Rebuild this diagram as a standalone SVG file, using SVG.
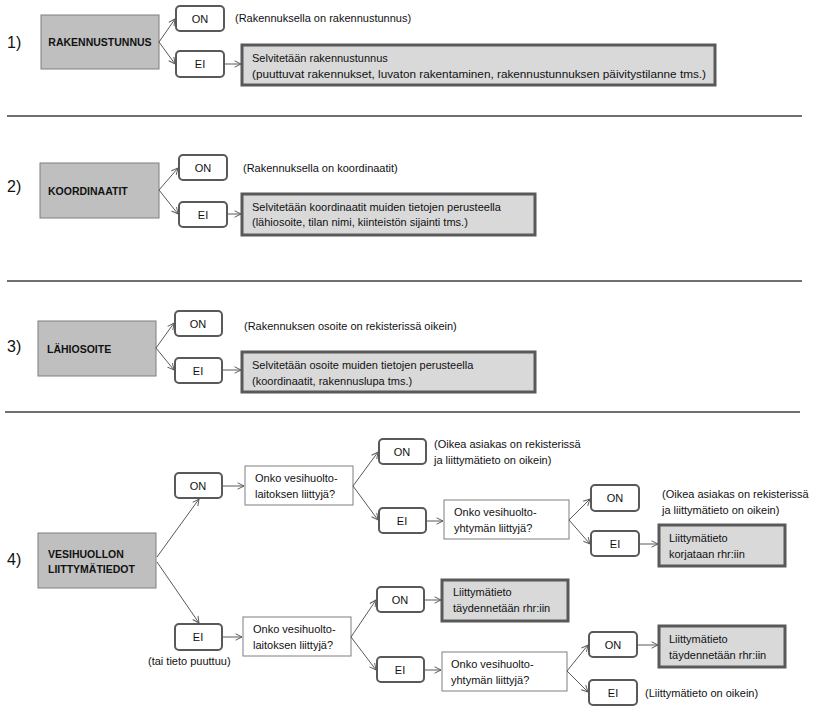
<svg xmlns="http://www.w3.org/2000/svg" width="828" height="709" viewBox="0 0 828 709">
<defs>
<marker id="arr" viewBox="0 0 10 10" refX="9" refY="5" markerWidth="8" markerHeight="8" markerUnits="userSpaceOnUse" orient="auto">
<path d="M1,1 L9,5 L1,9" fill="none" stroke="#595959" stroke-width="1.2"/>
</marker>
</defs>
<style>
text{font-family:"Liberation Sans",Arial,sans-serif;font-size:11px;fill:#111}
.num{font-size:16px}
.b{font-weight:bold;font-size:10.5px}
.main{fill:#bfbfbf;stroke:#7f7f7f;stroke-width:1}
.yn{fill:#fff;stroke:#595959;stroke-width:2}
.res{fill:#d9d9d9;stroke:#595959;stroke-width:3}
.q{fill:#fff;stroke:#7f7f7f;stroke-width:1}
.sep{stroke:#707070;stroke-width:2}
.c{stroke:#595959;stroke-width:1;fill:none;marker-end:url(#arr)}
.m{text-anchor:middle}
</style>
<rect width="828" height="709" fill="#fff"/>

<!-- separators -->
<line class="sep" x1="7" y1="116" x2="802" y2="116"/>
<line class="sep" x1="7" y1="281" x2="802" y2="281"/>
<line class="sep" x1="5" y1="412" x2="800" y2="412"/>

<!-- Section 1 -->
<text class="num" x="7" y="48">1)</text>
<g id="s1-main"><rect class="main" x="41" y="15" width="118" height="54"/><text class="b m" x="100" y="46">RAKENNUSTUNNUS</text></g>
<g id="s1-on"><rect class="yn" x="176" y="6" width="48" height="25" rx="4"/><text class="m" x="200" y="23">ON</text></g>
<g id="s1-ei"><rect class="yn" x="176" y="51" width="48" height="26" rx="4"/><text class="m" x="200" y="68">EI</text></g>
<g id="s1-note"><text x="235" y="22">(Rakennuksella on rakennustunnus)</text></g>
<g id="s1-res"><rect class="res" x="242" y="45" width="473" height="40"/><text x="252" y="62">Selvitetään rakennustunnus</text><text x="252" y="78" textLength="454" lengthAdjust="spacingAndGlyphs">(puuttuvat rakennukset, luvaton rakentaminen, rakennustunnuksen päivitystilanne tms.)</text></g>

<!-- Section 2 -->
<text class="num" x="7" y="192">2)</text>
<g id="s2-main"><rect class="main" x="40" y="163" width="119" height="55"/><text class="b" x="48" y="195">KOORDINAATIT</text></g>
<g id="s2-on"><rect class="yn" x="179" y="155" width="48" height="25" rx="4"/><text class="m" x="203" y="172">ON</text></g>
<g id="s2-ei"><rect class="yn" x="179" y="202" width="48" height="25" rx="4"/><text class="m" x="203" y="219">EI</text></g>
<g id="s2-note"><text x="243" y="172">(Rakennuksella on koordinaatit)</text></g>
<g id="s2-res"><rect class="res" x="242" y="194" width="293" height="41"/><text x="252" y="211">Selvitetään koordinaatit muiden tietojen perusteella</text><text x="252" y="226">(lähiosoite, tilan nimi, kiinteistön sijainti tms.)</text></g>

<!-- Section 3 -->
<text class="num" x="7" y="352">3)</text>
<g id="s3-main"><rect class="main" x="38" y="321" width="118" height="55"/><text class="b" x="47" y="353">LÄHIOSOITE</text></g>
<g id="s3-on"><rect class="yn" x="175" y="311" width="47" height="25" rx="4"/><text class="m" x="198" y="328">ON</text></g>
<g id="s3-ei"><rect class="yn" x="175" y="358" width="47" height="25" rx="4"/><text class="m" x="198" y="375">EI</text></g>
<g id="s3-note"><text x="244" y="330">(Rakennuksen osoite on rekisterissä oikein)</text></g>
<g id="s3-res"><rect class="res" x="242" y="352" width="293" height="40"/><text x="252" y="369">Selvitetään osoite muiden tietojen perusteella</text><text x="252" y="385">(koordinaatit, rakennuslupa tms.)</text></g>

<!-- Section 4 -->
<text class="num" x="7" y="565">4)</text>
<g id="s4-main"><rect class="main" x="38" y="533" width="118" height="55"/><text class="b" x="48" y="558">VESIHUOLLON</text><text class="b" x="48" y="573">LIITTYMÄTIEDOT</text></g>
<g id="s4-on"><rect class="yn" x="175" y="473" width="47" height="25" rx="4"/><text class="m" x="198" y="490">ON</text></g>
<g id="s4-ei"><rect class="yn" x="175" y="624" width="47" height="26" rx="4"/><text class="m" x="198" y="641">EI</text></g>
<g id="s4-ei-note"><text x="148" y="665">(tai tieto puuttuu)</text></g>

<g id="q1"><rect class="q" x="245" y="466" width="108" height="39"/><text x="255" y="482">Onko vesihuolto-</text><text x="255" y="498">laitoksen liittyjä?</text></g>
<g id="q1-on"><rect class="yn" x="379" y="439" width="47" height="25" rx="4"/><text class="m" x="402" y="456">ON</text></g>
<g id="q1-ei"><rect class="yn" x="379" y="508" width="47" height="25" rx="4"/><text class="m" x="402" y="525">EI</text></g>
<g id="q1-on-note"><text x="434" y="448">(Oikea asiakas on rekisterissä</text><text x="434" y="464">ja liittymätieto on oikein)</text></g>

<g id="q2"><rect class="q" x="444" y="500" width="125" height="39"/><text x="454" y="516">Onko vesihuolto-</text><text x="454" y="532">yhtymän liittyjä?</text></g>
<g id="q2-on"><rect class="yn" x="591" y="485" width="48" height="26" rx="4"/><text class="m" x="615" y="502">ON</text></g>
<g id="q2-ei"><rect class="yn" x="591" y="531" width="48" height="25" rx="4"/><text class="m" x="615" y="548">EI</text></g>
<g id="q2-on-note"><text x="662" y="498">(Oikea asiakas on rekisterissä</text><text x="662" y="514">ja liittymätieto on oikein)</text></g>
<g id="r1"><rect class="res" x="659" y="525" width="126" height="41"/><text x="669" y="542">Liittymätieto</text><text x="669" y="558">korjataan rhr:iin</text></g>

<g id="q3"><rect class="q" x="243" y="617" width="108" height="39"/><text x="253" y="633">Onko vesihuolto-</text><text x="253" y="649">laitoksen liittyjä?</text></g>
<g id="q3-on"><rect class="yn" x="377" y="587" width="47" height="25" rx="4"/><text class="m" x="400" y="604">ON</text></g>
<g id="q3-ei"><rect class="yn" x="377" y="657" width="47" height="25" rx="4"/><text class="m" x="400" y="674">EI</text></g>
<g id="r2"><rect class="res" x="442" y="580" width="126" height="41"/><text x="453" y="596">Liittymätieto</text><text x="453" y="612">täydennetään rhr:iin</text></g>

<g id="q4"><rect class="q" x="442" y="652" width="125" height="39"/><text x="451" y="668">Onko vesihuolto-</text><text x="451" y="684">yhtymän liittyjä?</text></g>
<g id="q4-on"><rect class="yn" x="589" y="632" width="48" height="25" rx="4"/><text class="m" x="613" y="649">ON</text></g>
<g id="q4-ei"><rect class="yn" x="589" y="680" width="48" height="25" rx="4"/><text class="m" x="613" y="697">EI</text></g>
<g id="q4-ei-note"><text x="645" y="697">(Liittymätieto on oikein)</text></g>
<g id="r3"><rect class="res" x="659" y="626" width="126" height="41"/><text x="669" y="643">Liittymätieto</text><text x="669" y="659">täydennetään rhr:iin</text></g>

<g id="connectors">
<line class="c" x1="159" y1="42" x2="175" y2="19"/>
<line class="c" x1="159" y1="42" x2="175" y2="64"/>
<line class="c" x1="225" y1="64" x2="241" y2="64"/>

<line class="c" x1="159" y1="190" x2="178" y2="168"/>
<line class="c" x1="159" y1="190" x2="178" y2="214"/>
<line class="c" x1="228" y1="214" x2="241" y2="214"/>

<line class="c" x1="156" y1="348" x2="174" y2="323"/>
<line class="c" x1="156" y1="348" x2="174" y2="370"/>
<line class="c" x1="223" y1="370" x2="241" y2="370"/>

<line class="c" x1="157" y1="557" x2="199" y2="499"/>
<line class="c" x1="157" y1="562" x2="199" y2="623"/>
<line class="c" x1="223" y1="486" x2="244" y2="486"/>
<line class="c" x1="353" y1="486" x2="378" y2="452"/>
<line class="c" x1="353" y1="486" x2="378" y2="520"/>
<line class="c" x1="427" y1="521" x2="443" y2="521"/>
<line class="c" x1="569" y1="520" x2="590" y2="499"/>
<line class="c" x1="569" y1="520" x2="590" y2="544"/>
<line class="c" x1="640" y1="544" x2="658" y2="544"/>

<line class="c" x1="223" y1="637" x2="242" y2="637"/>
<line class="c" x1="351" y1="637" x2="376" y2="600"/>
<line class="c" x1="351" y1="637" x2="376" y2="670"/>
<line class="c" x1="425" y1="600" x2="441" y2="600"/>
<line class="c" x1="425" y1="670" x2="441" y2="670"/>
<line class="c" x1="567" y1="671" x2="588" y2="645"/>
<line class="c" x1="567" y1="671" x2="588" y2="692"/>
<line class="c" x1="638" y1="645" x2="658" y2="645"/>
</g>
</svg>
